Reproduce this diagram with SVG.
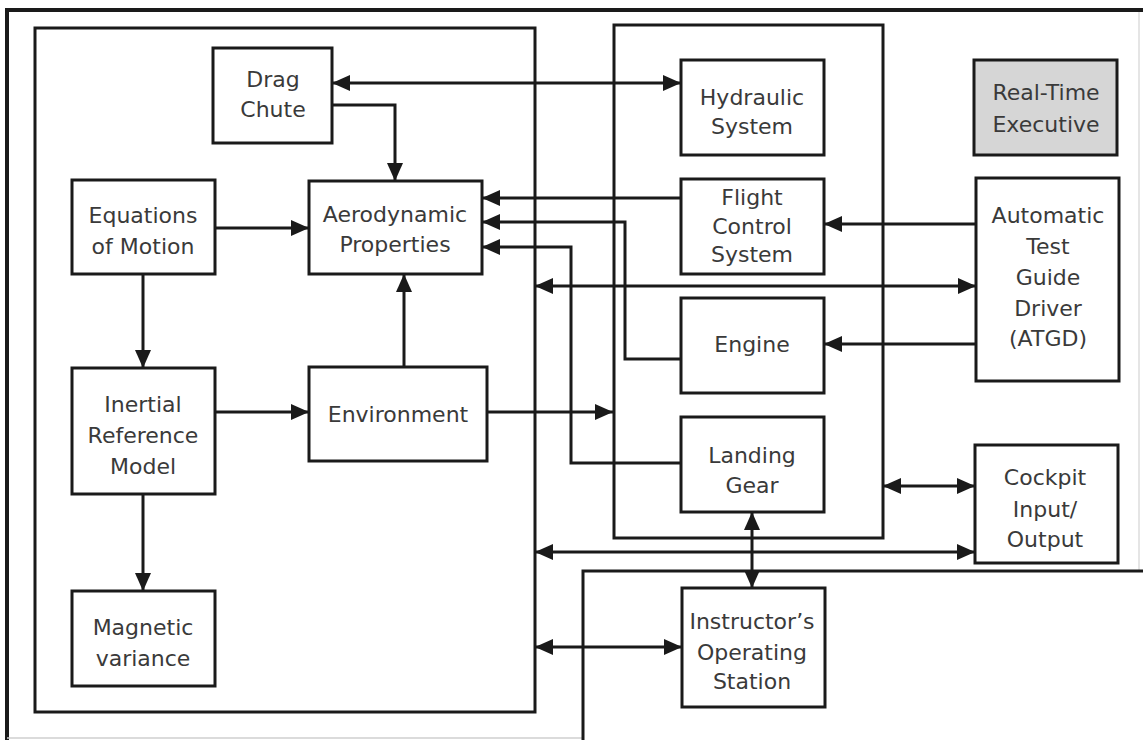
<svg xmlns="http://www.w3.org/2000/svg" width="1143" height="740" viewBox="0 0 1143 740">
<style>
.box{fill:#fff;stroke:#1a1a1a;stroke-width:3}
.gray{fill:#d6d6d6;stroke:#1a1a1a;stroke-width:3}
.frame{fill:none;stroke:#1a1a1a;stroke-width:3}
.c{fill:none;stroke:#1a1a1a;stroke-width:3}
.a{marker-end:url(#ah)}
.b{marker-start:url(#ah);marker-end:url(#ah)}
text{font-family:"DejaVu Sans","Liberation Sans",sans-serif;font-size:22px;fill:#3a3a3a;text-anchor:middle}
</style>
<defs>
<marker id="ah" viewBox="0 0 18 16" refX="18" refY="8" markerWidth="18" markerHeight="16" markerUnits="userSpaceOnUse" orient="auto-start-reverse">
<path d="M0,0 L18,8 L0,16 z" fill="#1a1a1a"/>
</marker>
</defs>
<rect width="1143" height="740" fill="#fff"/>
<g id="frames">
<path d="M1143,10 H7 V740" fill="none" stroke="#1a1a1a" stroke-width="4"/>
<path d="M7,738 H583" stroke="#cfcfcf" stroke-width="1.5"/>
<path d="M1139,12 V571" stroke="#dcdcdc" stroke-width="1.5"/>
<rect class="frame" x="35" y="28" width="500" height="684"/>
<rect class="frame" x="614" y="25" width="269" height="513"/>
<path class="frame" d="M1143,571 H583 V740"/>
</g>
<g id="connectors">
<path class="c b" d="M332,83 H681"/>
<path class="c a" d="M332,105 H395 V181"/>
<path class="c a" d="M215,228 H309"/>
<path class="c a" d="M681,198 H482"/>
<path class="c a" d="M681,359 H625 V222 H482"/>
<path class="c a" d="M681,463 H571 V247 H482"/>
<path class="c a" d="M404,367 V274"/>
<path class="c a" d="M143,274 V368"/>
<path class="c a" d="M215,412 H309"/>
<path class="c a" d="M143,494 V591"/>
<path class="c a" d="M487,412 H613"/>
<path class="c a" d="M976,224 H824"/>
<path class="c b" d="M535,286 H976"/>
<path class="c a" d="M976,344 H824"/>
<path class="c b" d="M883,486 H975"/>
<path class="c b" d="M535,552 H975"/>
<path class="c b" d="M752,512 V588"/>
<path class="c b" d="M535,647 H682"/>
</g>
<g id="drag-chute">
<rect class="box" x="213" y="48" width="119" height="95"/>
<text x="273" y="87">Drag</text>
<text x="273" y="117">Chute</text>
</g>
<g id="equations-of-motion">
<rect class="box" x="72" y="180" width="143" height="94"/>
<text x="143" y="223">Equations</text>
<text x="143" y="254">of Motion</text>
</g>
<g id="aerodynamic-properties">
<rect class="box" x="309" y="181" width="173" height="93"/>
<text x="395" y="222">Aerodynamic</text>
<text x="395" y="252">Properties</text>
</g>
<g id="inertial-reference-model">
<rect class="box" x="72" y="368" width="143" height="126"/>
<text x="143" y="412">Inertial</text>
<text x="143" y="443">Reference</text>
<text x="143" y="474">Model</text>
</g>
<g id="environment">
<rect class="box" x="309" y="367" width="178" height="94"/>
<text x="398" y="422">Environment</text>
</g>
<g id="magnetic-variance">
<rect class="box" x="72" y="591" width="143" height="95"/>
<text x="143" y="635">Magnetic</text>
<text x="143" y="666">variance</text>
</g>
<g id="hydraulic-system">
<rect class="box" x="681" y="60" width="143" height="95"/>
<text x="752" y="105">Hydraulic</text>
<text x="752" y="134">System</text>
</g>
<g id="real-time-executive">
<rect class="gray" x="974" y="60" width="143" height="95"/>
<text x="1046" y="100">Real-Time</text>
<text x="1046" y="132">Executive</text>
</g>
<g id="flight-control-system">
<rect class="box" x="681" y="179" width="143" height="95"/>
<text x="752" y="205">Flight</text>
<text x="752" y="234">Control</text>
<text x="752" y="262">System</text>
</g>
<g id="atgd">
<rect class="box" x="976" y="178" width="143" height="203"/>
<text x="1048" y="223">Automatic</text>
<text x="1048" y="254">Test</text>
<text x="1048" y="285">Guide</text>
<text x="1048" y="316">Driver</text>
<text x="1048" y="346">(ATGD)</text>
</g>
<g id="engine">
<rect class="box" x="681" y="298" width="143" height="95"/>
<text x="752" y="352">Engine</text>
</g>
<g id="landing-gear">
<rect class="box" x="681" y="417" width="143" height="95"/>
<text x="752" y="463">Landing</text>
<text x="752" y="493">Gear</text>
</g>
<g id="cockpit-io">
<rect class="box" x="975" y="445" width="143" height="118"/>
<text x="1045" y="485">Cockpit</text>
<text x="1045" y="517">Input/</text>
<text x="1045" y="547">Output</text>
</g>
<g id="instructors-operating-station">
<rect class="box" x="682" y="588" width="143" height="119"/>
<text x="752" y="629">Instructor’s</text>
<text x="752" y="660">Operating</text>
<text x="752" y="689">Station</text>
</g>
</svg>
